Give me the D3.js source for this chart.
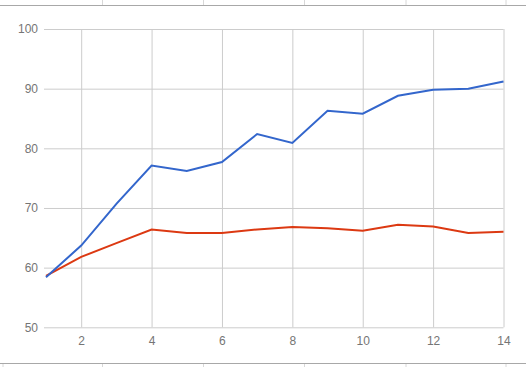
<!DOCTYPE html>
<html>
<head>
<meta charset="utf-8">
<script src="https://cdn.jsdelivr.net/npm/d3@7"></script>
<style>
  body { margin: 0; background: #fff; }
  svg { display: block; font-family: Roboto, sans-serif; }
  .tick text { fill: #757575; font-size: 12px; }
</style>
</head>
<body>
<svg width="526" height="367"></svg>
<script>
const steps = [1, 2, 3, 4, 5, 6, 7, 8, 9, 10, 11, 12, 13, 14];
const blueValues = [58.4, 63.7, 70.7, 77.1, 76.2, 77.7, 82.4, 80.9, 86.3, 85.8, 88.8, 89.8, 90.0, 91.2];
const redValues = [58.6, 61.8, 64.1, 66.4, 65.8, 65.8, 66.4, 66.8, 66.6, 66.2, 67.2, 66.9, 65.8, 66.0];
const xTicks = [2, 4, 6, 8, 10, 12, 14];
const yTicks = [50, 60, 70, 80, 90, 100];
const cellEdges = [3, 102.5, 203.5, 304.5, 406, 506];

const svg = d3.select('svg');
const width = +svg.attr('width');
const height = +svg.attr('height');

// spreadsheet cell borders around the chart
svg.append('line')
    .attr('x1', 0).attr('x2', width)
    .attr('y1', 5.5).attr('y2', 5.5)
    .attr('stroke', '#a8a8a8');
svg.append('line')
    .attr('x1', 0).attr('x2', width)
    .attr('y1', 363.5).attr('y2', 363.5)
    .attr('stroke', '#a8a8a8');
svg.selectAll('.cell-top').data(cellEdges.slice(1))
    .enter().append('line')
    .attr('x1', d => d).attr('x2', d => d)
    .attr('y1', 0).attr('y2', 5)
    .attr('stroke', '#d8d8d8');
svg.selectAll('.cell-bottom').data(cellEdges)
    .enter().append('line')
    .attr('x1', d => d).attr('x2', d => d)
    .attr('y1', 364).attr('y2', height)
    .attr('stroke', '#d8d8d8');

const margin = { top: 29, right: 22.5, bottom: 40, left: 46 };
const innerWidth = width - margin.left - margin.right;
const innerHeight = 327.3 - margin.top;

const xScale = d3.scaleLinear()
    .domain([1, 14])
    .range([0, innerWidth]);

const yScale = d3.scaleLinear()
    .domain([50, 100])
    .range([innerHeight, 0]);

const g = svg.append('g')
    .attr('transform', `translate(${margin.left},${margin.top})`);

const yAxis = d3.axisLeft(yScale)
    .tickValues(yTicks)
    .tickSize(-innerWidth - 2)
    .tickPadding(6);

const yAxisG = g.append('g')
    .attr('transform', 'translate(-2,0)')
    .call(yAxis);
yAxisG.select('.domain').remove();
yAxisG.selectAll('.tick line').attr('stroke', '#cccccc').attr('transform', 'translate(0,0)');

const xAxis = d3.axisBottom(xScale)
    .tickValues(xTicks)
    .tickSize(-innerHeight)
    .tickPadding(9);

const xAxisG = g.append('g')
    .attr('transform', `translate(0,${innerHeight})`)
    .call(xAxis);
xAxisG.select('.domain').remove();
xAxisG.selectAll('.tick line').attr('stroke', '#cccccc');

const lineGenerator = values => d3.line()
    .x((d, i) => xScale(steps[i]))
    .y(d => yScale(d))(values);

g.append('path')
    .attr('d', lineGenerator(redValues))
    .attr('fill', 'none')
    .attr('stroke', '#dc3912')
    .attr('stroke-width', 2);

g.append('path')
    .attr('d', lineGenerator(blueValues))
    .attr('fill', 'none')
    .attr('stroke', '#3366cc')
    .attr('stroke-width', 2);
</script>
</body>
</html>
